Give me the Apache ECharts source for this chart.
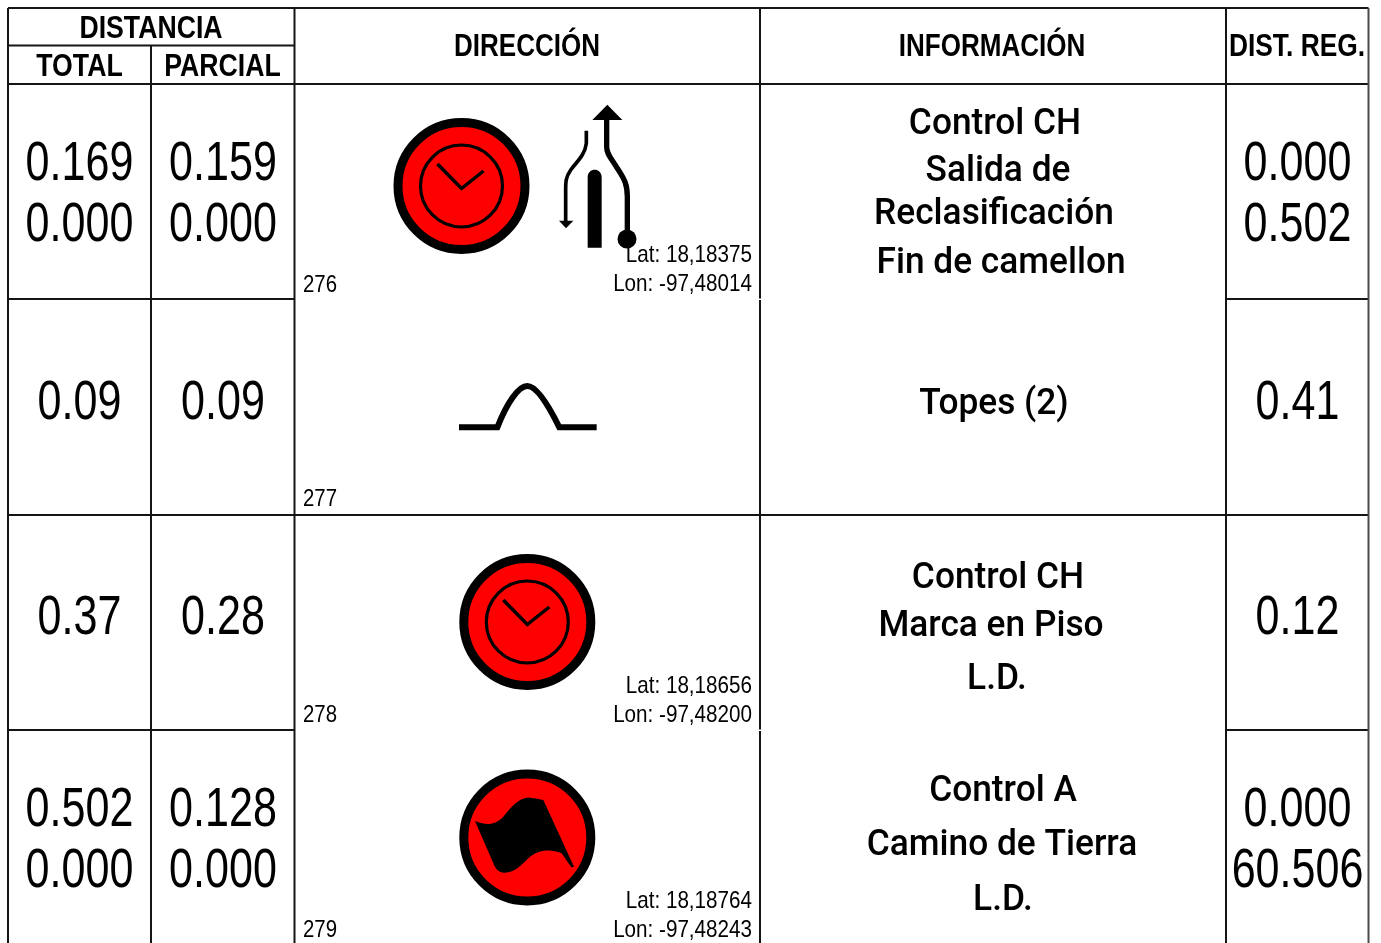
<!DOCTYPE html>
<html><head><meta charset="utf-8">
<style>html,body{margin:0;padding:0;background:#fff}#c{width:1381px;height:943px}</style>
<script src="https://cdn.jsdelivr.net/npm/echarts@6/dist/echarts.min.js"></script>
</head><body><div id="c"></div>
<script>
// ---- table content ----
var headers = ['DISTANCIA', 'TOTAL', 'PARCIAL', 'DIRECCIÓN', 'INFORMACIÓN', 'DIST. REG.'];
var rowIds = ['276', '277', '278', '279'];
var totals = [['0.169', '0.000'], ['0.09'], ['0.37'], ['0.502', '0.000']];
var partials = [['0.159', '0.000'], ['0.09'], ['0.28'], ['0.128', '0.000']];
var regs = [['0.000', '0.502'], ['0.41'], ['0.12'], ['0.000', '60.506']];
var lats = ['Lat: 18,18375', '', 'Lat: 18,18656', 'Lat: 18,18764'];
var lons = ['Lon: -97,48014', '', 'Lon: -97,48200', 'Lon: -97,48243'];
var infos = [
  ['Control CH', 'Salida de', 'Reclasificación', 'Fin de camellon'],
  ['Topes (2)'],
  ['Control CH', 'Marca en Piso', 'L.D.'],
  ['Control A', 'Camino de Tierra', 'L.D.']
];
// ---- layout (pixels) ----
var colX = [8, 151, 294.5, 760, 1226, 1368.5];
var rowY = [84, 299, 515, 730, 943];
var hTop = 8, hMid = 45.5;
var numRowY = [[165, 226], [404], [619], [811, 872]];
var infoLineY = [[125, 172, 215, 264], [405], [579, 627, 680], [792, 846, 901]];
var infoLineX = [[995, 998, 994, 1001], [994], [998, 991, 997], [1003, 1002, 1003]];
var idY = [285, 499, 715, 930];
var latY = [255, null, 686, 901], lonY = [284, null, 715, 930];

var els = [];
function hl(x1, x2, y) { els.push({type: 'line', shape: {x1: x1, y1: y, x2: x2, y2: y}, style: {stroke: '#151515', lineWidth: 2}}); }
function vl(x, y1, y2, c) { els.push({type: 'line', shape: {x1: x, y1: y1, x2: x, y2: y2}, style: {stroke: c || '#151515', lineWidth: 2}}); }
function txt(s, x, y, font, sx, align) {
  els.push({type: 'text', x: x, y: y, scaleX: sx, z: 5, style: {text: s, font: font, fill: '#000', align: align || 'center', verticalAlign: 'middle'}});
}
var BOLD = 'bold 31px "Liberation Sans"', NUM = '55px "Liberation Sans"', SMALL = '24px "Liberation Sans"', INFO = '500 36px Roboto';

// grid lines
hl(colX[0], colX[5], hTop);
hl(colX[0], colX[2], hMid);
hl(colX[0], colX[5], rowY[0]);
hl(colX[0], colX[2], rowY[1]); hl(colX[4], colX[5], rowY[1]);
hl(colX[0], colX[5], rowY[2]);
hl(colX[0], colX[2], rowY[3]); hl(colX[4], colX[5], rowY[3]);
vl(colX[0], hTop, 943);
vl(colX[1], hMid, 943);
vl(colX[2], hTop, 943);
vl(colX[3], hTop, 298.5); vl(colX[3], 300, 729.5); vl(colX[3], 731, 943);
vl(colX[4], hTop, 943);
vl(colX[5], hTop, 943, '#4a4a4a');

// headers
txt(headers[0], 151, 29, BOLD, 0.86);
txt(headers[1], 79.5, 67, BOLD, 0.86);
txt(headers[2], 222.5, 67, BOLD, 0.86);
txt(headers[3], 527, 47, BOLD, 0.84);
txt(headers[4], 992, 47, BOLD, 0.84);
txt(headers[5], 1297, 47, BOLD, 0.85);

// rows
rowIds.forEach(function (id, i) {
  totals[i].forEach(function (s, j) { txt(s, 79.5, numRowY[i][j], NUM, 0.783); });
  partials[i].forEach(function (s, j) { txt(s, 223, numRowY[i][j], NUM, 0.783); });
  regs[i].forEach(function (s, j) { txt(s, 1297.5, numRowY[i][j], NUM, 0.783); });
  infos[i].forEach(function (s, j) { txt(s, infoLineX[i][j], infoLineY[i][j], INFO, 0.98); });
  txt(id, 303, idY[i], SMALL, 0.85, 'left');
  if (lats[i]) { txt(lats[i], 752, latY[i], SMALL, 0.86, 'right'); txt(lons[i], 752, lonY[i], SMALL, 0.86, 'right'); }
});

// icon glyph outlines, registered as shapes for the graphic component
var glyphs = {
  flagGlyph: 'M105 213 C135 225 165 228 190 200 C215 170 240 140 270 143 C285 144 300 148 310 150 L402 350 L394 352 L365 310 C330 295 290 300 265 325 C240 350 220 370 190 368 C175 367 165 355 160 340 Z',
  roadRight: 'M680 88 L680 170 C680 195 695 205 712 235 C735 270 742 285 742 320 L742 445',
  roadLeft: 'M619 122 L619 160 C615 195 590 215 572 240 C557 262 557 275 557 300 L557 395',
  roadSolid: 'M682 44 L637 90 L727 90 Z M537 392 L580 392 L558 415 Z M623 473 L623 262 C623 232 665 232 665 262 L665 473 Z',
  bumpGlyph: 'M57 172 L172 172 C200 100 235 48 262 48 C290 48 325 105 358 172 L470 172'
};
Object.keys(glyphs).forEach(function (k) {
  echarts.graphic.registerShape(k, echarts.graphic.extendPath(glyphs[k], {}));
});
function glyph(name, x, y, style) {
  els.push({type: name, x: x, y: y, scaleX: 1 / 3, scaleY: 1 / 3, style: style});
}
function badge(cx, cy) {
  els.push({type: 'circle', shape: {cx: cx, cy: cy, r: 63.5}, style: {fill: '#ff0000', stroke: '#000', lineWidth: 9}});
}
function clock(cx, cy) {
  badge(cx, cy);
  els.push({type: 'circle', shape: {cx: cx, cy: cy, r: 41}, style: {fill: 'none', stroke: '#000', lineWidth: 3.2}});
  els.push({type: 'polyline', shape: {points: [[cx - 24, cy - 22], [cx, cy + 2.5], [cx + 22, cy - 15]]}, style: {fill: 'none', stroke: '#000', lineWidth: 3.5}});
}
clock(461.5, 186);
clock(527.3, 622);
badge(527.3, 837.5);
glyph('flagGlyph', 440, 750, {fill: '#000'});
glyph('roadRight', 380, 90, {fill: 'none', stroke: '#000', lineWidth: 16});
glyph('roadLeft', 380, 90, {fill: 'none', stroke: '#000', lineWidth: 11});
glyph('roadSolid', 380, 90, {fill: '#000'});
els.push({type: 'circle', shape: {cx: 627, cy: 239, r: 9.5}, style: {fill: '#000'}});
glyph('bumpGlyph', 440, 370, {fill: 'none', stroke: '#000', lineWidth: 18});

var chart = echarts.init(document.getElementById('c'), null, {renderer: 'canvas'});
chart.setOption({backgroundColor: '#fff', animation: false, graphic: {elements: els}});
</script></body></html>
